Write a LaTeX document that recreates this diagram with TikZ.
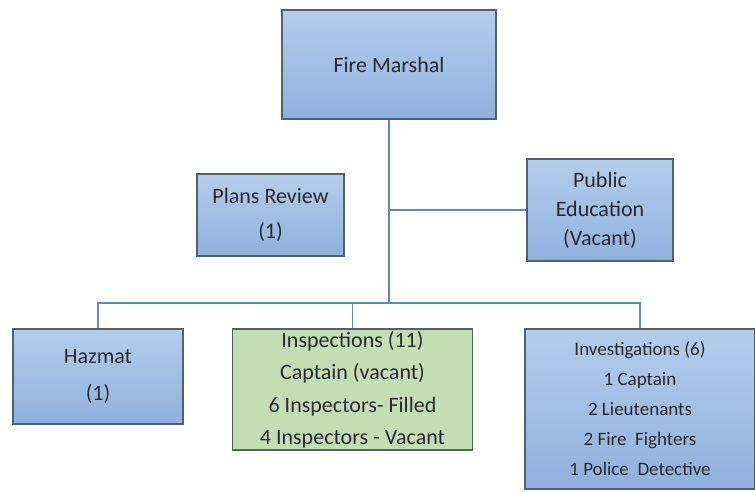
\documentclass[tikz,border=0pt]{standalone}
\usepackage{fontspec}
\setmainfont{Carlito}
\definecolor{boxtop}{HTML}{B3CDEC}
\definecolor{boxbottom}{HTML}{8FB1DD}
\definecolor{boxedge}{HTML}{56606B}
\definecolor{greenfill}{HTML}{C4DEB3}
\definecolor{linkblue}{HTML}{5B8BC4}
\definecolor{inktext}{HTML}{262A2E}

\begin{document}
\begin{tikzpicture}[x=1pt, y=-1pt,
	office/.style={draw=boxedge, line width=1.2pt, top color=boxtop, bottom color=boxbottom, text=inktext, align=center, inner sep=0pt},
	inspectbox/.style={office, top color=greenfill, bottom color=greenfill},
	link/.style={draw=linkblue, line width=1.3pt}]
	\useasboundingbox (0,0) rectangle (755,491);
	\node [office, minimum width=214pt, minimum height=109pt, font=\fontsize{22}{26}\selectfont] (marshal) at (389,64.5) {Fire Marshal};
	\node [office, minimum width=147pt, minimum height=82pt, font=\fontsize{22}{35}\selectfont] (plans) at (270.5,215) {Plans Review \\ (1)};
	\node [office, minimum width=146pt, minimum height=102pt, font=\fontsize{22}{29}\selectfont] (public) at (600,210) {Public \\ Education \\ (Vacant)};
	\node [office, minimum width=170pt, minimum height=95pt, font=\fontsize{22}{37}\selectfont] (hazmat) at (98,376.5) {Hazmat \\ (1)};
	\node [inspectbox, minimum width=240pt, minimum height=121pt, font=\fontsize{22}{32.5}\selectfont] (inspect) at (352.5,389.5)
		{Inspections (11) \\ Captain (vacant) \\ 6 Inspectors- Filled \\ 4 Inspectors - Vacant};
	\node [office, minimum width=230pt, minimum height=160pt, font=\fontsize{19}{30}\selectfont] (investig) at (640,409)
		{Investigations (6) \\ 1 Captain \\ 2 Lieutenants \\ 2 Fire~~Fighters \\ 1 Police~~Detective};
	\coordinate (bus) at (marshal.south |- 0,303);
	\draw [link, line width=2pt] (marshal.south) -- (bus);
	\draw [link] (public.west) -- (public.west -| marshal.south);
	\draw [link] (hazmat.north) |- (bus) -| (investig.north);
	\draw [link] (inspect.north) |- (bus);
\end{tikzpicture}
\end{document}
